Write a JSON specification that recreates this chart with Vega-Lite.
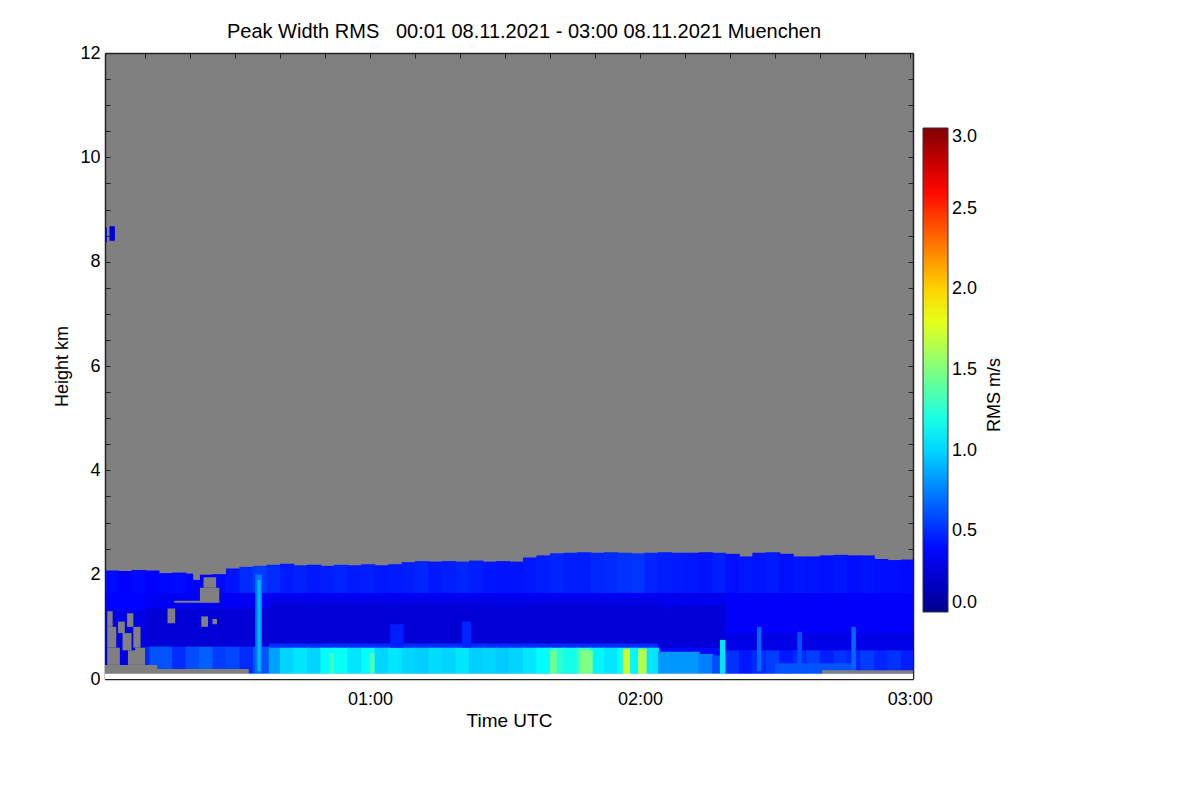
{
"$schema": "https://vega.github.io/schema/vega-lite/v6.json",
"autosize": "none",
"width": 808,
"height": 626,
"padding": {"left": 105, "top": 53, "right": 287, "bottom": 121},
"background": "white",
"config": {
  "view": {"fill": "#808080", "stroke": null},
  "font": "Liberation Sans",
  "axis": {"domainColor": "#222", "domainWidth": 1.5, "tickColor": "#222", "tickWidth": 1, "tickSize": -5, "labelFontSize": 18, "labelColor": "black", "titleFontSize": 18, "titleFontWeight": "normal", "titleColor": "black", "grid": false, "labelOverlap": false, "labelFlush": false, "zindex": 1, "labelFont": "Liberation Sans", "titleFont": "Liberation Sans"}
},
"title": {"text": "Peak Width RMS\u00a0\u00a0\u00a000:01 08.11.2021 - 03:00 08.11.2021 Muenchen", "fontSize": 20, "fontWeight": "normal", "font": "Liberation Sans", "color": "black", "anchor": "middle", "dx": 15, "offset": -14, "baseline": "alphabetic"},
"datasets": {
  "cells": [
    {"t":1.1,"t2":10.3,"h":0.25,"h2":1.32,"v":0.3},
    {"t":1.1,"t2":10.3,"h":1.3,"h2":1.67,"v":0.38},
    {"t":10,"t2":37.8,"h":0.6,"h2":1.37,"v":0.24},
    {"t":10,"t2":37.8,"h":1.35,"h2":1.67,"v":0.33},
    {"t":37.5,"t2":124.3,"h":0.58,"h2":0.7,"v":0.5},
    {"t":37.5,"t2":124.3,"h":0.68,"h2":1.42,"v":0.23},
    {"t":37.5,"t2":124.3,"h":1.4,"h2":1.57,"v":0.28},
    {"t":37.5,"t2":124.3,"h":1.55,"h2":1.67,"v":0.34},
    {"t":124,"t2":139.3,"h":0.43,"h2":0.62,"v":0.4},
    {"t":124,"t2":139.3,"h":0.6,"h2":1.42,"v":0.24},
    {"t":124,"t2":139.3,"h":1.4,"h2":1.67,"v":0.32},
    {"t":139,"t2":180.7,"h":0.1,"h2":1.67,"v":0.36},
    {"t":139,"t2":180.7,"h":0.53,"h2":0.88,"v":0.29},
    {"t":10,"t2":13.3,"h":0.19,"h2":0.62,"v":0.5},
    {"t":13,"t2":16.3,"h":0.19,"h2":0.62,"v":0.62},
    {"t":16,"t2":19.3,"h":0.19,"h2":0.62,"v":0.5},
    {"t":19,"t2":22.3,"h":0.19,"h2":0.62,"v":0.6},
    {"t":22,"t2":25.3,"h":0.19,"h2":0.62,"v":0.66},
    {"t":25,"t2":28.3,"h":0.19,"h2":0.62,"v":0.55},
    {"t":28,"t2":31.3,"h":0.19,"h2":0.62,"v":0.58},
    {"t":31,"t2":33.3,"h":0.19,"h2":0.62,"v":0.5},
    {"t":33,"t2":34.3,"h":0.1,"h2":0.62,"v":0.5},
    {"t":34,"t2":37.8,"h":0.1,"h2":0.62,"v":0.62},
    {"t":37.5,"t2":40.3,"h":0.1,"h2":0.6,"v":0.85},
    {"t":40,"t2":43.3,"h":0.1,"h2":0.6,"v":1.0},
    {"t":43,"t2":46.3,"h":0.1,"h2":0.6,"v":1.05},
    {"t":46,"t2":49.3,"h":0.1,"h2":0.6,"v":1.0},
    {"t":49,"t2":52.3,"h":0.1,"h2":0.6,"v":1.12},
    {"t":52,"t2":55.3,"h":0.1,"h2":0.6,"v":1.15},
    {"t":55,"t2":58.3,"h":0.1,"h2":0.6,"v":1.05},
    {"t":58,"t2":61.3,"h":0.1,"h2":0.6,"v":1.12},
    {"t":61,"t2":64.3,"h":0.1,"h2":0.6,"v":1.0},
    {"t":64,"t2":67.3,"h":0.1,"h2":0.6,"v":1.05},
    {"t":67,"t2":70.3,"h":0.1,"h2":0.6,"v":1.0},
    {"t":70,"t2":73.3,"h":0.1,"h2":0.6,"v":0.98},
    {"t":73,"t2":76.3,"h":0.1,"h2":0.6,"v":1.02},
    {"t":76,"t2":79.3,"h":0.1,"h2":0.6,"v":1.0},
    {"t":79,"t2":82.3,"h":0.1,"h2":0.6,"v":1.05},
    {"t":82,"t2":85.3,"h":0.1,"h2":0.6,"v":0.98},
    {"t":85,"t2":88.3,"h":0.1,"h2":0.6,"v":1.0},
    {"t":88,"t2":91.3,"h":0.1,"h2":0.6,"v":0.97},
    {"t":91,"t2":94.3,"h":0.1,"h2":0.6,"v":1.0},
    {"t":94,"t2":97.3,"h":0.1,"h2":0.6,"v":1.05},
    {"t":97,"t2":100.3,"h":0.1,"h2":0.6,"v":1.12},
    {"t":100,"t2":103.3,"h":0.1,"h2":0.6,"v":1.25},
    {"t":103,"t2":106.3,"h":0.1,"h2":0.6,"v":1.18},
    {"t":106,"t2":109.3,"h":0.1,"h2":0.6,"v":1.3},
    {"t":109,"t2":112.3,"h":0.1,"h2":0.6,"v":1.1},
    {"t":112,"t2":115.3,"h":0.1,"h2":0.6,"v":1.05},
    {"t":115,"t2":118.3,"h":0.1,"h2":0.6,"v":1.15},
    {"t":118,"t2":121.3,"h":0.1,"h2":0.6,"v":1.1},
    {"t":121,"t2":124.3,"h":0.1,"h2":0.6,"v":1.05},
    {"t":124,"t2":133.3,"h":0.1,"h2":0.52,"v":0.82},
    {"t":133,"t2":136.3,"h":0.1,"h2":0.48,"v":0.75},
    {"t":136,"t2":139.3,"h":0.1,"h2":0.45,"v":0.6},
    {"t":139,"t2":142.3,"h":0.1,"h2":0.55,"v":0.52},
    {"t":142,"t2":145.3,"h":0.1,"h2":0.55,"v":0.44},
    {"t":145,"t2":148.3,"h":0.1,"h2":0.55,"v":0.5},
    {"t":148,"t2":151.3,"h":0.1,"h2":0.55,"v":0.55},
    {"t":151,"t2":154.3,"h":0.1,"h2":0.55,"v":0.44},
    {"t":154,"t2":157.3,"h":0.1,"h2":0.55,"v":0.5},
    {"t":157,"t2":160.3,"h":0.1,"h2":0.55,"v":0.56},
    {"t":160,"t2":163.3,"h":0.17,"h2":0.55,"v":0.46},
    {"t":163,"t2":166.3,"h":0.17,"h2":0.55,"v":0.52},
    {"t":166,"t2":169.3,"h":0.17,"h2":0.55,"v":0.48},
    {"t":169,"t2":172.3,"h":0.17,"h2":0.55,"v":0.55},
    {"t":172,"t2":175.3,"h":0.17,"h2":0.55,"v":0.48},
    {"t":175,"t2":178.3,"h":0.17,"h2":0.55,"v":0.52},
    {"t":178,"t2":180.7,"h":0.17,"h2":0.55,"v":0.46},
    {"t":1.1,"t2":4.2,"h":1.65,"h2":2.08,"v":0.4},
    {"t":4,"t2":7.2,"h":1.65,"h2":2.07,"v":0.37},
    {"t":7,"t2":10.2,"h":1.65,"h2":2.09,"v":0.4},
    {"t":10,"t2":13.2,"h":1.65,"h2":2.08,"v":0.38},
    {"t":13,"t2":16.2,"h":1.65,"h2":2.03,"v":0.39},
    {"t":16,"t2":19.2,"h":1.65,"h2":2.04,"v":0.4},
    {"t":19,"t2":22.2,"h":1.65,"h2":2.02,"v":0.38},
    {"t":22,"t2":25.2,"h":1.65,"h2":2.0,"v":0.37},
    {"t":25,"t2":28.2,"h":1.65,"h2":2.01,"v":0.4},
    {"t":28,"t2":31.2,"h":1.65,"h2":2.12,"v":0.43},
    {"t":31,"t2":34.2,"h":1.65,"h2":2.15,"v":0.5},
    {"t":34,"t2":37.2,"h":1.65,"h2":2.17,"v":0.55},
    {"t":37,"t2":40.2,"h":1.65,"h2":2.19,"v":0.5},
    {"t":40,"t2":43.2,"h":1.65,"h2":2.21,"v":0.45},
    {"t":43,"t2":46.2,"h":1.65,"h2":2.18,"v":0.47},
    {"t":46,"t2":49.2,"h":1.65,"h2":2.19,"v":0.44},
    {"t":49,"t2":52.2,"h":1.65,"h2":2.17,"v":0.46},
    {"t":52,"t2":55.2,"h":1.65,"h2":2.19,"v":0.48},
    {"t":55,"t2":58.2,"h":1.65,"h2":2.18,"v":0.45},
    {"t":58,"t2":61.2,"h":1.65,"h2":2.2,"v":0.46},
    {"t":61,"t2":64.2,"h":1.65,"h2":2.18,"v":0.44},
    {"t":64,"t2":67.2,"h":1.65,"h2":2.2,"v":0.45},
    {"t":67,"t2":70.2,"h":1.65,"h2":2.24,"v":0.46},
    {"t":70,"t2":73.2,"h":1.65,"h2":2.26,"v":0.48},
    {"t":73,"t2":76.2,"h":1.65,"h2":2.25,"v":0.44},
    {"t":76,"t2":79.2,"h":1.65,"h2":2.26,"v":0.46},
    {"t":79,"t2":82.2,"h":1.65,"h2":2.25,"v":0.48},
    {"t":82,"t2":85.2,"h":1.65,"h2":2.27,"v":0.46},
    {"t":85,"t2":88.2,"h":1.65,"h2":2.25,"v":0.44},
    {"t":88,"t2":91.2,"h":1.65,"h2":2.26,"v":0.43},
    {"t":91,"t2":94.2,"h":1.65,"h2":2.25,"v":0.43},
    {"t":94,"t2":97.2,"h":1.65,"h2":2.33,"v":0.44},
    {"t":97,"t2":100.2,"h":1.65,"h2":2.37,"v":0.46},
    {"t":100,"t2":103.2,"h":1.65,"h2":2.41,"v":0.48},
    {"t":103,"t2":106.2,"h":1.65,"h2":2.42,"v":0.46},
    {"t":106,"t2":109.2,"h":1.65,"h2":2.43,"v":0.46},
    {"t":109,"t2":112.2,"h":1.65,"h2":2.42,"v":0.49},
    {"t":112,"t2":115.2,"h":1.65,"h2":2.43,"v":0.5},
    {"t":115,"t2":118.2,"h":1.65,"h2":2.42,"v":0.52},
    {"t":118,"t2":121.2,"h":1.65,"h2":2.41,"v":0.53},
    {"t":121,"t2":124.2,"h":1.65,"h2":2.42,"v":0.48},
    {"t":124,"t2":127.2,"h":1.65,"h2":2.43,"v":0.46},
    {"t":127,"t2":130.2,"h":1.65,"h2":2.42,"v":0.45},
    {"t":130,"t2":133.2,"h":1.65,"h2":2.42,"v":0.44},
    {"t":133,"t2":136.2,"h":1.65,"h2":2.43,"v":0.43},
    {"t":136,"t2":139.2,"h":1.65,"h2":2.42,"v":0.46},
    {"t":139,"t2":142.2,"h":1.65,"h2":2.4,"v":0.42},
    {"t":142,"t2":145.2,"h":1.65,"h2":2.35,"v":0.44},
    {"t":145,"t2":148.2,"h":1.65,"h2":2.42,"v":0.43},
    {"t":148,"t2":151.2,"h":1.65,"h2":2.43,"v":0.45},
    {"t":151,"t2":154.2,"h":1.65,"h2":2.4,"v":0.42},
    {"t":154,"t2":157.2,"h":1.65,"h2":2.35,"v":0.44},
    {"t":157,"t2":160.2,"h":1.65,"h2":2.35,"v":0.43},
    {"t":160,"t2":163.2,"h":1.65,"h2":2.37,"v":0.42},
    {"t":163,"t2":166.2,"h":1.65,"h2":2.38,"v":0.44},
    {"t":166,"t2":169.2,"h":1.65,"h2":2.37,"v":0.41},
    {"t":169,"t2":172.2,"h":1.65,"h2":2.37,"v":0.43},
    {"t":172,"t2":175.2,"h":1.65,"h2":2.3,"v":0.42},
    {"t":175,"t2":178.2,"h":1.65,"h2":2.28,"v":0.41},
    {"t":178,"t2":180.7,"h":1.65,"h2":2.29,"v":0.4},
    {"t":150,"t2":168,"h":0.1,"h2":0.3,"v":0.62},
    {"t":34.5,"t2":36,"h":0.1,"h2":2.0,"v":0.72},
    {"t":35,"t2":35.7,"h":0.15,"h2":1.9,"v":0.92},
    {"t":64.5,"t2":67.5,"h":0.6,"h2":1.05,"v":0.46},
    {"t":80.5,"t2":82.5,"h":0.6,"h2":1.1,"v":0.48},
    {"t":51,"t2":52,"h":0.1,"h2":0.5,"v":1.3},
    {"t":60,"t2":61,"h":0.1,"h2":0.5,"v":1.35},
    {"t":100,"t2":101.5,"h":0.1,"h2":0.55,"v":1.45},
    {"t":106.5,"t2":109.5,"h":0.1,"h2":0.55,"v":1.5},
    {"t":116.2,"t2":117.8,"h":0.1,"h2":0.58,"v":1.75},
    {"t":119.6,"t2":121.5,"h":0.1,"h2":0.58,"v":1.65},
    {"t":137.8,"t2":139,"h":0.1,"h2":0.75,"v":1.05},
    {"t":146,"t2":147,"h":0.15,"h2":1.0,"v":0.68},
    {"t":155,"t2":156,"h":0.2,"h2":0.9,"v":0.62},
    {"t":167,"t2":168,"h":0.2,"h2":1.0,"v":0.68},
    {"t":11,"t2":15,"h":0.19,"h2":0.62,"v":0.62},
    {"t":2.1,"t2":3.3,"h":8.4,"h2":8.68,"v":0.25},
    {"t":1.1,"t2":1.5,"h":8.37,"h2":8.65,"v":0.25}
  ],
  "holes": [
    {"t":1.6,"t2":2.8,"h":1.0,"h2":1.3},
    {"t":1.6,"t2":3.6,"h":0.6,"h2":1.0},
    {"t":1.6,"t2":4.4,"h":0.27,"h2":0.6},
    {"t":4.0,"t2":5.5,"h":0.88,"h2":1.1},
    {"t":5.0,"t2":7.0,"h":0.55,"h2":0.88},
    {"t":6.2,"t2":8.2,"h":0.27,"h2":0.55},
    {"t":6.0,"t2":7.4,"h":1.0,"h2":1.26},
    {"t":7.4,"t2":9.0,"h":0.6,"h2":1.0},
    {"t":7.8,"t2":10.0,"h":0.27,"h2":0.6},
    {"t":1.1,"t2":12.7,"h":0.1,"h2":0.27},
    {"t":12.7,"t2":33,"h":0.1,"h2":0.19},
    {"t":15,"t2":16.7,"h":1.07,"h2":1.35},
    {"t":20.7,"t2":22.2,"h":1.9,"h2":2.1},
    {"t":23,"t2":25.8,"h":1.75,"h2":1.95},
    {"t":22.2,"t2":26.5,"h":1.47,"h2":1.75},
    {"t":16.5,"t2":26.5,"h":1.46,"h2":1.5},
    {"t":22.5,"t2":24,"h":1.0,"h2":1.2},
    {"t":25,"t2":26,"h":1.05,"h2":1.15},
    {"t":160.5,"t2":180.7,"h":0.1,"h2":0.17}
  ],
  "strip": [
    {"t":1.1,"t2":180.7,"h":0,"h2":0.1}
  ]
},
"layer": [
  {
    "data": {"name": "cells"},
    "mark": {"type": "rect"},
    "encoding": {
      "x": {"field": "t", "type": "quantitative", "scale": {"domain": [1.1, 180.7], "nice": false, "zero": false},
            "axis": {"orient": "bottom", "title": "Time UTC", "titleFontSize": 19, "values": [10,20,30,40,50,60,70,80,90,100,110,120,130,140,150,160,170,180], "labelExpr": "datum.value % 60 === 0 ? '0' + (datum.value / 60) + ':00' : ''", "labelPadding": 16, "titlePadding": 3}},
      "x2": {"field": "t2"},
      "y": {"field": "h", "type": "quantitative", "scale": {"domain": [0, 12], "nice": false, "zero": false},
            "axis": {"orient": "left", "title": "Height km", "values": [0,0.5,1,1.5,2,2.5,3,3.5,4,4.5,5,5.5,6,6.5,7,7.5,8,8.5,9,9.5,10,10.5,11,11.5,12], "labelExpr": "datum.value % 2 === 0 ? format(datum.value, 'd') : ''", "labelPadding": 10, "titlePadding": 8}},
      "y2": {"field": "h2"},
      "color": {"field": "v", "type": "quantitative",
                "scale": {"domain": [0, 0.375, 1.125, 1.875, 2.625, 3], "range": ["#00008f", "#0000ff", "#00ffff", "#ffff00", "#ff0000", "#800000"], "interpolate": "rgb", "clamp": true},
                "legend": {"type": "gradient", "orient": "none", "legendX": 818, "legendY": 75, "direction": "vertical", "gradientLength": 484, "gradientThickness": 25, "values": [0, 0.5, 1, 1.5, 2, 2.5, 3], "format": ".1f", "labelFontSize": 18, "labelFont": "Liberation Sans", "labelColor": "black", "labelOffset": 4, "labelOverlap": false, "title": "RMS m/s", "titleOrient": "right", "titleFontSize": 18, "titleFont": "Liberation Sans", "titleFontWeight": "normal", "titleColor": "black", "titlePadding": 5, "gradientStrokeColor": "#333", "gradientStrokeWidth": 1, "padding": 0,
                           "encode": {"title": {"update": {"angle": {"value": 270}, "dx": {"value": -25}, "dy": {"value": 22}}}}}}
    }
  },
  {
    "data": {"name": "holes"},
    "mark": {"type": "rect", "color": "#808080", "strokeWidth": 0},
    "encoding": {
      "x": {"field": "t", "type": "quantitative", "axis": {"orient": "top", "title": null, "labels": false, "values": [10,20,30,40,50,60,70,80,90,100,110,120,130,140,150,160,170,180]}},
      "x2": {"field": "t2"},
      "y": {"field": "h", "type": "quantitative", "axis": {"orient": "right", "title": null, "labels": false, "values": [0,0.5,1,1.5,2,2.5,3,3.5,4,4.5,5,5.5,6,6.5,7,7.5,8,8.5,9,9.5,10,10.5,11,11.5,12]}},
      "y2": {"field": "h2"}
    }
  },
  {
    "data": {"name": "strip"},
    "mark": {"type": "rect", "color": "white", "strokeWidth": 0},
    "encoding": {
      "x": {"field": "t", "type": "quantitative", "axis": null},
      "x2": {"field": "t2"},
      "y": {"field": "h", "type": "quantitative", "axis": null},
      "y2": {"field": "h2"}
    }
  }
],
"resolve": {"axis": {"x": "independent", "y": "independent"}}
}
